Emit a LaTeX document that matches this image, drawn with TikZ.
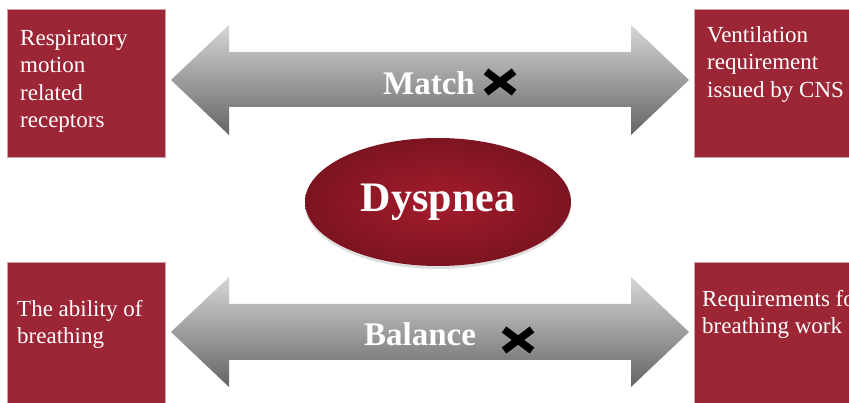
\documentclass[tikz,border=0pt]{standalone}
\usepackage{fontspec}
\setmainfont{Liberation Serif}
\usetikzlibrary{shapes.geometric,shadows}
\definecolor{boxred}{RGB}{157,38,54}
\definecolor{boxedge}{RGB}{205,160,165}
\definecolor{arrtop}{RGB}{214,214,214}
\definecolor{arrbot}{RGB}{100,100,100}
\definecolor{ellin}{RGB}{164,28,44}
\definecolor{ellout}{RGB}{125,20,33}
\begin{document}
\begin{tikzpicture}[x=1pt,y=-1pt,
  redbox/.style={rectangle, fill=boxred, draw=boxedge, line width=0.6pt, anchor=north west, minimum width=158pt, minimum height=148pt, inner sep=0pt},
  boxtext/.style={anchor=north west, align=left, text=white, inner sep=0pt, font=\fontsize{23}{27.5}\selectfont},
  bigarrow/.style={top color=arrtop, bottom color=arrbot, draw=none},
  armlabel/.style={anchor=base, text=white, inner sep=0pt, font=\bfseries\fontsize{33}{36}\selectfont},
  xmark/.style={line width=7.5pt, black, line cap=butt}
]
\useasboundingbox (0,0) rectangle (849,403);
\clip (0,0) rectangle (849,403);
\fill[white] (0,0) rectangle (849,403);

% boxes
\node[redbox] (b1) at (7,9) {};
\node[redbox, minimum width=170pt] (b2) at (694,9) {};
\node[redbox, minimum height=160pt] (b3) at (7,262) {};
\node[redbox, minimum width=170pt, minimum height=160pt] (b4) at (694,262) {};

\node[boxtext] (t1) at (20,30) {Respiratory\\motion\\related\\receptors};
\node[boxtext] (t2) at (707,26) {Ventilation\\requirement\\issued by CNS};
\node[boxtext] (t3) at (17,300) {The ability of\\breathing};
\node[boxtext] (t4) at (702,290) {Requirements for\\breathing work};

% arrows
\shade[bigarrow] (171,80) -- (229,25) -- (229,52) -- (631,52) -- (631,25) -- (689,80)
  -- (631,135) -- (631,107) -- (229,107) -- (229,135) -- cycle;
\shade[bigarrow] (171,332) -- (229,277) -- (229,304) -- (631,304) -- (631,277) -- (689,332)
  -- (631,387) -- (631,360) -- (229,360) -- (229,387) -- cycle;

\node[armlabel] (match) at (429,95) {Match};
\node[armlabel] (balance) at (420,345) {Balance};

\draw[xmark, shift={(500,82)}] (-14,-10.5) -- (14,10.5) (-14,10.5) -- (14,-10.5);
\draw[xmark, shift={(518,340)}] (-14,-10.5) -- (14,10.5) (-14,10.5) -- (14,-10.5);

% ellipse
\node[ellipse, minimum width=266pt, minimum height=128pt, inner color=ellin, outer color=ellout,
  drop shadow={shadow xshift=0pt, shadow yshift=-3pt, opacity=0.25}] (dys) at (438,202) {};
\node[anchor=base, text=white, inner sep=0pt, font=\bfseries\fontsize{42}{46}\selectfont] (dyst) at (438,212) {Dyspnea};
\end{tikzpicture}
\end{document}
